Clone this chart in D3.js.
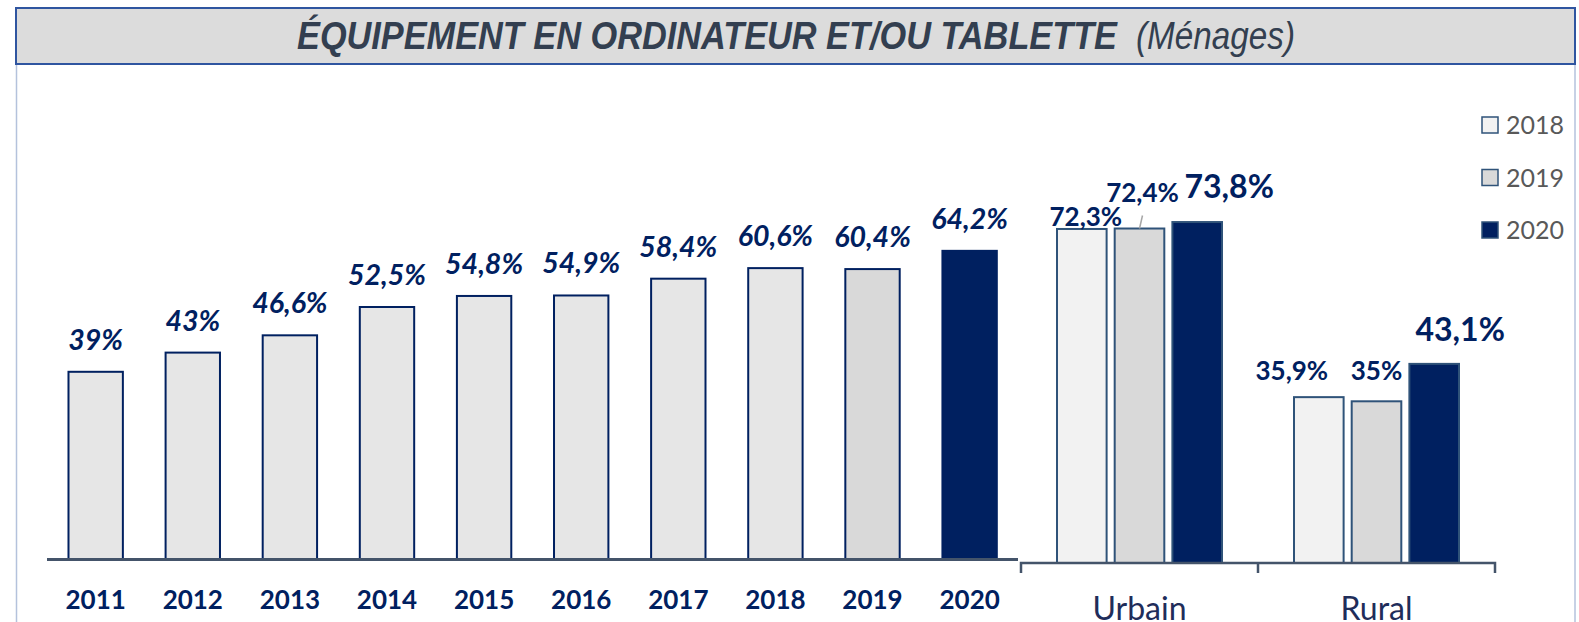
<!DOCTYPE html>
<html>
<head>
<meta charset="utf-8">
<script src="https://cdn.jsdelivr.net/npm/d3@7"></script>
<style>
  body { margin: 0; background: #fff; }
  svg { display: block; }
</style>
</head>
<body>
<div id="chart"></div>
<script>
// Left panel: yearly series
const years       = ['2011', '2012', '2013', '2014', '2015', '2016', '2017', '2018', '2019', '2020'];
const yearValues  = [39, 43, 46.6, 52.5, 54.8, 54.9, 58.4, 60.6, 60.4, 64.2];
const yearLabels  = ['39%', '43%', '46,6%', '52,5%', '54,8%', '54,9%', '58,4%', '60,6%', '60,4%', '64,2%'];

// Right panel: area x year
const areas       = ['Urbain', 'Rural'];
const seriesYears = ['2018', '2019', '2020'];
const values2018  = [72.3, 35.9];
const values2019  = [72.4, 35];
const values2020  = [73.8, 43.1];
const labels2018  = ['72,3%', '35,9%'];
const labels2019  = ['72,4%', '35%'];
const labels2020  = ['73,8%', '43,1%'];

const titleMain = 'ÉQUIPEMENT EN ORDINATEUR ET/OU TABLETTE';
const titleSub  = '(Ménages)';

const width  = 1579;
const height = 622;
const navy   = '#002060';

const svg = d3.select('#chart')
  .append('svg')
  .attr('width', width)
  .attr('height', height);

// frame + title box
svg.append('line')
  .attr('x1', 16.5).attr('x2', 16.5).attr('y1', 64).attr('y2', height)
  .style('stroke', '#b4c2dc').style('stroke-width', 1.5);
svg.append('line')
  .attr('x1', 1575).attr('x2', 1575).attr('y1', 64).attr('y2', height)
  .style('stroke', '#b4c2dc').style('stroke-width', 1.5);

svg.append('rect')
  .attr('x', 16).attr('y', 8)
  .attr('width', 1559).attr('height', 56)
  .style('fill', '#dcdcdc')
  .style('stroke', '#2f55a0')
  .style('stroke-width', 2);

svg.append('text')
  .attr('x', 297)
  .attr('y', 49)
  .attr('textLength', 820)
  .attr('lengthAdjust', 'spacingAndGlyphs')
  .style('font-family', '"Liberation Sans", Arial, sans-serif')
  .style('font-size', '39px')
  .style('font-style', 'italic')
  .style('font-weight', 'bold')
  .style('fill', '#333f50')
  .text(titleMain);

svg.append('text')
  .attr('x', 1136)
  .attr('y', 49)
  .attr('textLength', 159)
  .attr('lengthAdjust', 'spacingAndGlyphs')
  .style('font-family', '"Liberation Sans", Arial, sans-serif')
  .style('font-size', '39px')
  .style('font-style', 'italic')
  .style('fill', '#333f50')
  .text(titleSub);

// ---------- left panel ----------
const leftData = years.map((y, i) => ({year: y, value: yearValues[i], label: yearLabels[i]}));

const xLeft = d3.scaleBand()
  .domain(years)
  .range([41.3, 1024])
  .paddingInner(0.44)
  .paddingOuter(0.28);

const yLeft = d3.scaleLinear()
  .domain([0, 100])
  .range([559, 79]);

const leftFill = d => d.year === '2020' ? navy : (d.year === '2019' ? '#d9d9d9' : '#e6e6e6');

svg.append('g')
  .selectAll('rect')
  .data(leftData)
  .enter()
  .append('rect')
    .attr('x',      d => xLeft(d.year))
    .attr('y',      d => yLeft(d.value))
    .attr('width',  xLeft.bandwidth())
    .attr('height', d => yLeft(0) - yLeft(d.value))
    .style('fill',   leftFill)
    .style('stroke', navy)
    .style('stroke-width', 2);

svg.append('g')
  .selectAll('text')
  .data(leftData)
  .enter()
  .append('text')
    .attr('x', d => xLeft(d.year) + xLeft.bandwidth() / 2)
    .attr('y', d => yLeft(d.value) - 22)
    .style('text-anchor', 'middle')
    .style('font-family', 'Lato, sans-serif')
    .style('font-size', '28.5px')
    .style('font-weight', 'bold')
    .style('font-style', 'italic')
    .style('fill', navy)
    .text(d => d.label);

// x-axis (years)
let axisLeft = svg.append('g')
  .attr('class', 'x-axis-left')
  .attr('transform', `translate(0, ${yLeft(0)})`)
  .call(d3.axisBottom(xLeft).tickSize(0).tickPadding(32));
axisLeft.select('.domain').remove();
axisLeft.selectAll('text')
  .style('font-family', 'Lato, sans-serif')
  .style('font-size', '26px')
  .style('font-weight', 'bold')
  .style('fill', navy);

svg.append('line')
  .attr('x1', 47).attr('x2', 1018)
  .attr('y1', yLeft(0) + 0.5).attr('y2', yLeft(0) + 0.5)
  .style('stroke', '#44546a')
  .style('stroke-width', 3);

// ---------- right panel ----------
const seriesValues = [values2018, values2019, values2020];
const seriesLabels = [labels2018, labels2019, labels2020];
const seriesFill   = ['#f2f2f2', '#d9d9d9', navy];
// label placement tweaks [dx, dy] per area and series
const labelNudge = [
  [[4, -3], [3, -27], [32, -24]],
  [[-27, -17], [0, -21], [26, -23]]
];
const labelSize = ['26px', '26px', '32px'];

const rightData = [];
areas.forEach((a, i) => {
  seriesYears.forEach((s, j) => {
    rightData.push({area: a, series: s, si: j, ai: i,
      value: seriesValues[j][i], label: seriesLabels[j][i]});
  });
});

const x0 = d3.scaleBand()
  .domain(areas)
  .range([1021, 1495]);

const x1 = d3.scaleBand()
  .domain(seriesYears)
  .range([36, x0.bandwidth() - 36])
  .paddingInner(0.14);

const yRight = d3.scaleLinear()
  .domain([0, 100])
  .range([563, 101]);

svg.append('g')
  .selectAll('rect')
  .data(rightData)
  .enter()
  .append('rect')
    .attr('x',      d => x0(d.area) + x1(d.series))
    .attr('y',      d => yRight(d.value))
    .attr('width',  x1.bandwidth())
    .attr('height', d => yRight(0) - yRight(d.value))
    .style('fill',   d => seriesFill[d.si])
    .style('stroke', '#2f5379')
    .style('stroke-width', 2);

// leader line for 72,4%
const lead = rightData.find(d => d.area === 'Urbain' && d.series === '2019');
svg.append('line')
  .attr('x1', x0(lead.area) + x1(lead.series) + x1.bandwidth() / 2 + 3)
  .attr('y1', yRight(lead.value) - 13)
  .attr('x2', x0(lead.area) + x1(lead.series) + x1.bandwidth() / 2)
  .attr('y2', yRight(lead.value))
  .style('stroke', '#a6a6a6')
  .style('stroke-width', 1.5);

svg.append('g')
  .selectAll('text')
  .data(rightData)
  .enter()
  .append('text')
    .attr('x', d => x0(d.area) + x1(d.series) + x1.bandwidth() / 2 + labelNudge[d.ai][d.si][0])
    .attr('y', d => yRight(d.value) + labelNudge[d.ai][d.si][1])
    .style('text-anchor', 'middle')
    .style('font-family', 'Lato, sans-serif')
    .style('font-size', d => labelSize[d.si])
    .style('font-weight', 'bold')
    .style('fill', navy)
    .text(d => d.label);

let axisRight = svg.append('g')
  .attr('class', 'x-axis-right')
  .attr('transform', `translate(0, ${yRight(0)})`)
  .call(d3.axisBottom(x0).tickSize(0).tickPadding(34));
axisRight.select('.domain').remove();
axisRight.selectAll('text')
  .style('font-family', 'Lato, sans-serif')
  .style('font-size', '32px')
  .style('fill', '#1f2d5a');

// category axis line with separators
svg.append('path')
  .attr('d', `M${x0.range()[0]},${yRight(0) + 10}V${yRight(0)}H${x0.range()[1]}V${yRight(0) + 10}`
    + `M${x0('Rural')},${yRight(0)}V${yRight(0) + 10}`)
  .style('fill', 'none')
  .style('stroke', '#44546a')
  .style('stroke-width', 2.5);

// legend
const legend = svg.append('g')
  .selectAll('g')
  .data(seriesYears)
  .enter()
  .append('g')
    .attr('transform', (d, i) => `translate(1482, ${125 + i * 52.5})`);

legend.append('rect')
  .attr('x', 0).attr('y', -8)
  .attr('width', 16).attr('height', 16)
  .style('fill', (d, i) => seriesFill[i])
  .style('stroke', '#2f5379')
  .style('stroke-width', 1.5);

legend.append('text')
  .attr('x', 24)
  .attr('y', 9)
  .style('font-family', 'Lato, sans-serif')
  .style('font-size', '25px')
  .style('fill', '#595959')
  .text(d => d);
</script>
</body>
</html>
